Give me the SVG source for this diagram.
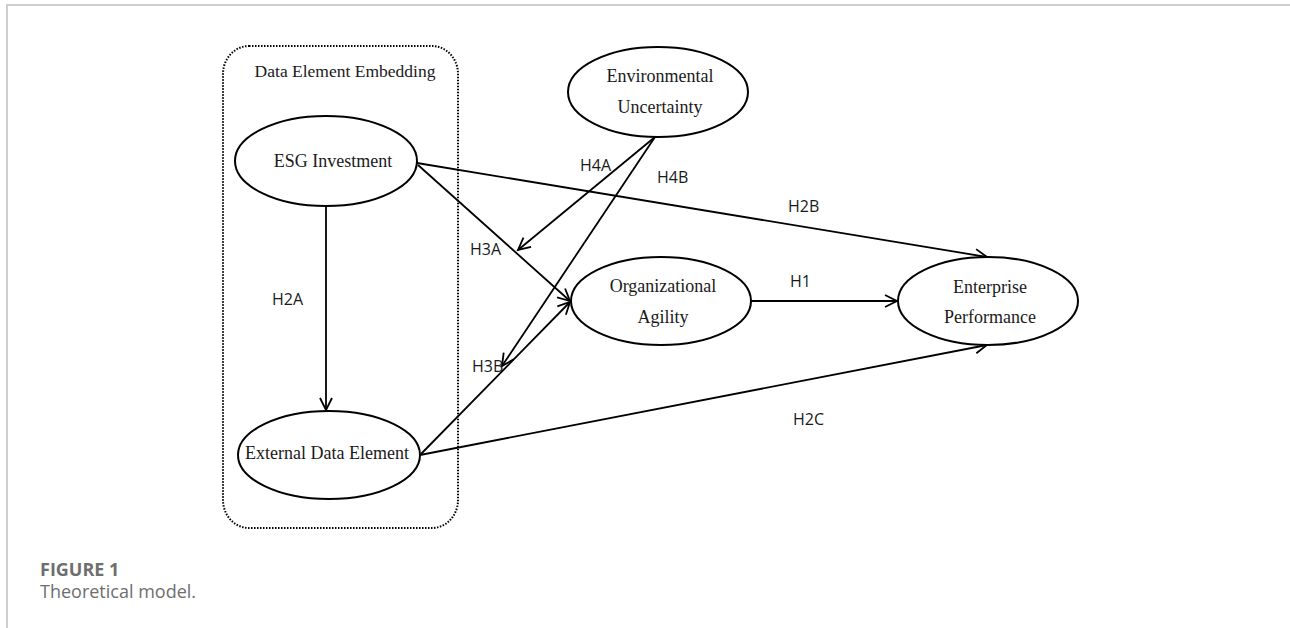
<svg xmlns="http://www.w3.org/2000/svg" width="1290" height="628" viewBox="0 0 1290 628">
<style>
.node ellipse{fill:#fff;stroke:#000;stroke-width:2}
.nt{font-family:"Liberation Serif",serif;font-size:18px;fill:#1a1a1a;text-anchor:middle}
.lbl{font-family:"Open Sans",sans-serif;font-size:16px;fill:#1a1a1a}
.edge{stroke:#000;stroke-width:1.8;fill:none;marker-end:url(#arr)}
</style>
<defs>
<marker id="arr" markerUnits="userSpaceOnUse" markerWidth="16" markerHeight="16" refX="13" refY="7" orient="auto" viewBox="0 0 16 14">
<path d="M1,1 L13,7 L1,13" fill="none" stroke="#000" stroke-width="1.8"/>
</marker>
</defs>
<rect x="0" y="0" width="1290" height="628" fill="#fff"/>
<path d="M7,628 V5 H1290" fill="none" stroke="#cfcfcf" stroke-width="2"/>
<g id="group-embedding">
<rect x="223" y="46" width="235" height="482" rx="26" ry="28" fill="none" stroke="#000" stroke-width="2" stroke-dasharray="1.5,1.5"/>
<text x="345" y="77" class="nt" style="font-size:17.5px">Data Element Embedding</text>
</g>
<g id="connectors">
<line class="edge" x1="326" y1="206" x2="326" y2="410"/>
<line class="edge" x1="417" y1="163" x2="987" y2="257"/>
<line class="edge" x1="418" y1="165" x2="570" y2="301"/>
<line class="edge" x1="421" y1="454" x2="570" y2="302"/>
<line class="edge" x1="420" y1="455" x2="987" y2="345"/>
<line class="edge" x1="751" y1="301" x2="897" y2="301"/>
<line class="edge" x1="655" y1="137" x2="518" y2="250"/>
<line class="edge" x1="655" y1="137" x2="502" y2="366"/>
</g>
<g id="labels">
<text class="lbl" x="272" y="305">H2A</text>
<text class="lbl" x="788" y="212">H2B</text>
<text class="lbl" x="793" y="425">H2C</text>
<text class="lbl" x="790" y="287">H1</text>
<text class="lbl" x="470" y="255">H3A</text>
<text class="lbl" x="472" y="372">H3B</text>
<text class="lbl" x="580" y="171">H4A</text>
<text class="lbl" x="657" y="183">H4B</text>
</g>
<g id="node-esg" class="node">
<ellipse cx="326" cy="161" rx="91" ry="45"/>
<text class="nt" x="333" y="167">ESG Investment</text>
</g>
<g id="node-external" class="node">
<ellipse cx="329" cy="455" rx="91" ry="44"/>
<text class="nt" x="327" y="459">External Data Element</text>
</g>
<g id="node-env" class="node">
<ellipse cx="658" cy="92" rx="90" ry="45"/>
<text class="nt" x="660" y="82">Environmental</text>
<text class="nt" x="660" y="113">Uncertainty</text>
</g>
<g id="node-org" class="node">
<ellipse cx="661" cy="301" rx="90" ry="44"/>
<text class="nt" x="663" y="292">Organizational</text>
<text class="nt" x="663" y="323">Agility</text>
</g>
<g id="node-perf" class="node">
<ellipse cx="988" cy="301" rx="90" ry="44"/>
<text class="nt" x="990" y="293">Enterprise</text>
<text class="nt" x="990" y="323">Performance</text>
</g>
<g id="caption">
<text x="40" y="576" style="font-family:'Open Sans',sans-serif;font-size:18px;font-weight:bold;fill:#6e6e6e">FIGURE 1</text>
<text x="40" y="598" style="font-family:'Open Sans',sans-serif;font-size:18px;fill:#6e6e6e">Theoretical model.</text>
</g>
</svg>
